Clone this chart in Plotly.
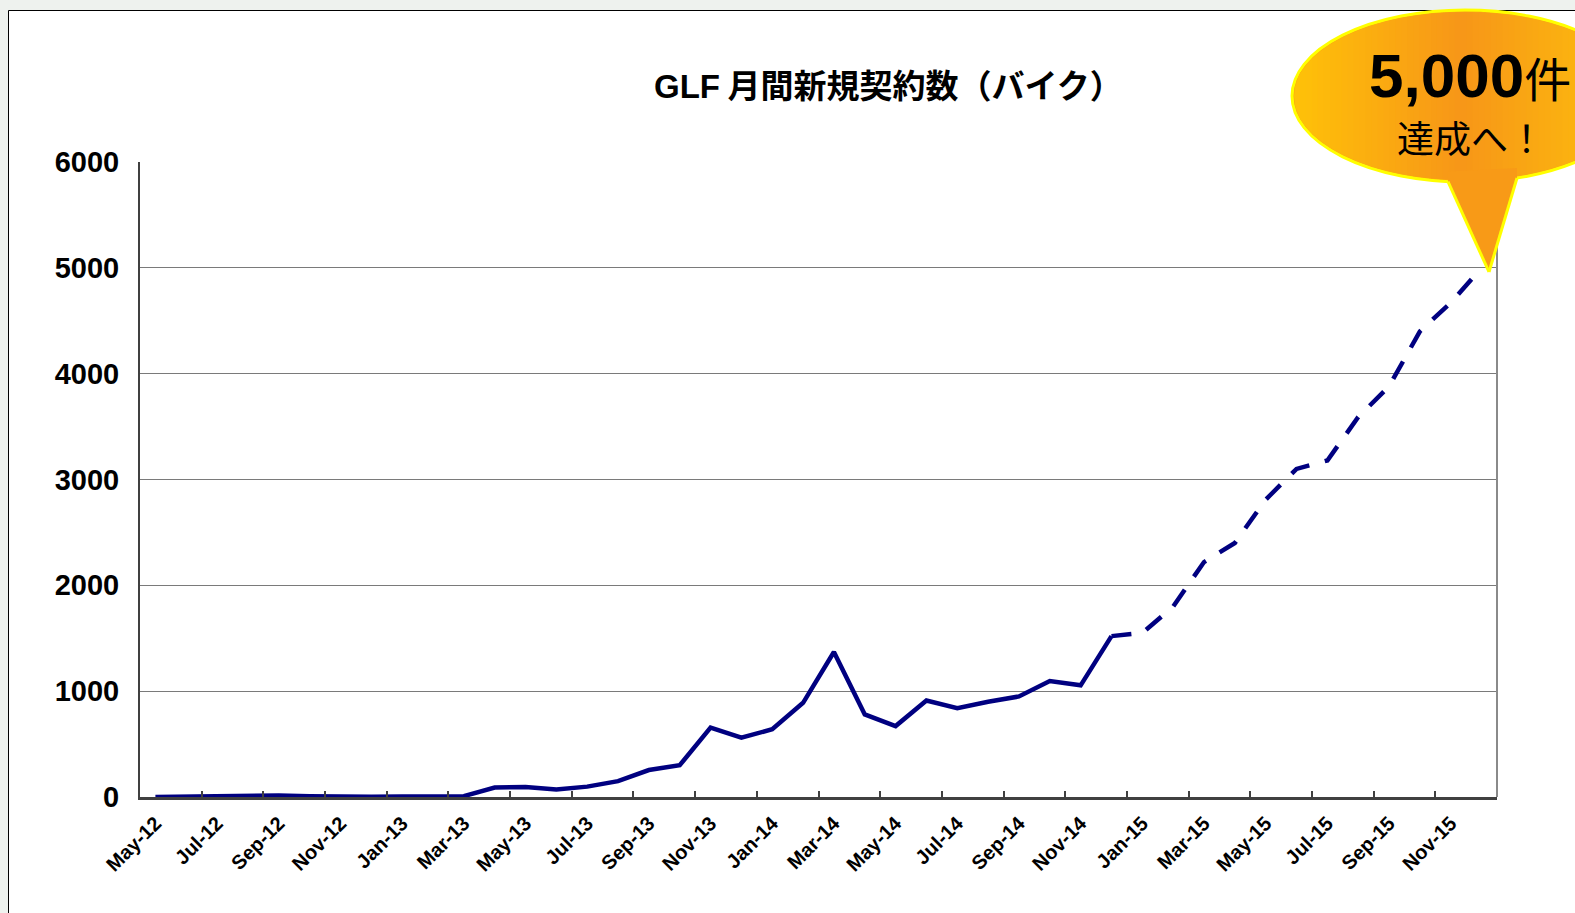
import plotly.graph_objects as go

# ---------------- data ----------------
months = [
    "May-12", "Jun-12", "Jul-12", "Aug-12", "Sep-12", "Oct-12", "Nov-12", "Dec-12",
    "Jan-13", "Feb-13", "Mar-13", "Apr-13", "May-13", "Jun-13", "Jul-13", "Aug-13",
    "Sep-13", "Oct-13", "Nov-13", "Dec-13", "Jan-14", "Feb-14", "Mar-14", "Apr-14",
    "May-14", "Jun-14", "Jul-14", "Aug-14", "Sep-14", "Oct-14", "Nov-14", "Dec-14",
    "Jan-15", "Feb-15", "Mar-15", "Apr-15", "May-15", "Jun-15", "Jul-15", "Aug-15",
    "Sep-15", "Oct-15", "Nov-15", "Dec-15",
]
# actual contracts May-12 .. Dec-14 (solid line)
actual = [0, 5, 5, 5, 15, 8, 3, 3, 5, 8, 8, 90, 95, 72, 98, 150,
          255, 300, 655, 560, 640, 890, 1370, 780, 670, 912, 840, 900, 950, 1095, 1055, 1520]
# plan Dec-14 .. Dec-15 (dashed line)
forecast = [1520, 1550, 1800, 2220, 2400, 2810, 3100, 3180, 3590, 3880, 4400, 4670, 5000]
y_ticks = [0, 1000, 2000, 3000, 4000, 5000, 6000]

title_latin = "GLF"
title_jp = "月間新規契約数（バイク）"
callout_big = "5,000"
callout_unit = "件"
callout_line2 = "達成へ！"

# ---------------- layout geometry ----------------
W, H = 1575, 913
L, R, T, B = 140, 78, 162, 116
PW, PH = W - L - R, H - T - B


def px(x):
    return (x - L) / PW


def py(y):
    return (H - B - y) / PH


NAVY = "#000080"
FONT = "Liberation Sans, Arial, Noto Sans CJK JP, sans-serif"
JFONT = "Noto Sans CJK JP, sans-serif"

fig = go.Figure()
n_act = len(actual)
fig.add_trace(go.Scatter(
    x=months[:n_act], y=actual, mode="lines",
    line=dict(color=NAVY, width=4.5), hoverinfo="skip", showlegend=False,
))
fig.add_trace(go.Scatter(
    x=months[n_act - 1:n_act - 1 + len(forecast)], y=forecast, mode="lines",
    line=dict(color=NAVY, width=4.5, dash="20px,16px"), hoverinfo="skip", showlegend=False,
))

shapes = []
# outer frame
shapes.append(dict(type="rect", xref="paper", yref="paper", layer="below",
                   x0=px(8.5), x1=px(1600), y0=py(10.5), y1=py(940),
                   line=dict(color="black", width=1), fillcolor="white"))
# right border of plot area
shapes.append(dict(type="line", xref="paper", yref="paper", layer="above",
                   x0=1, x1=1, y0=0, y1=1, line=dict(color="#8a8a8a", width=2)))

# ---- callout (ellipse + tail) ----
cx, cy, a, b = 1465.0, 96.0, 173.0, 86.0
c_left = (255, 194, 8)
c_mid = (247, 150, 24)
c_right = (251, 178, 16)


def grad(x):
    if x <= 1462:
        t = max(0.0, min(1.0, (x - (cx - a)) / (1462 - (cx - a))))
        c0, c1 = c_left, c_mid
    else:
        t = max(0.0, min(1.0, (x - 1462) / (1575 - 1462)))
        c0, c1 = c_mid, c_right
    return "rgb(%d,%d,%d)" % tuple(round(c0[i] + (c1[i] - c0[i]) * t) for i in range(3))


shapes.append(dict(type="circle", xref="paper", yref="paper", layer="above",
                   x0=px(cx - a), x1=px(cx + a), y0=py(cy + b), y1=py(cy - b),
                   line=dict(color="#FFFF00", width=3), fillcolor=grad(1400)))
# gradient strips inside the ellipse
ai, bi = a - 2.0, b - 2.0
nstr = 48
x_start, x_end = cx - ai, min(cx + ai, 1580)
for k in range(nstr):
    xa = x_start + (x_end - x_start) * k / nstr
    xb = x_start + (x_end - x_start) * (k + 1) / nstr + 0.8
    xb = min(xb, cx + ai)
    pts_top, pts_bot = [], []
    steps = 6
    for s in range(steps + 1):
        xx = xa + (xb - xa) * s / steps
        u = max(0.0, 1 - ((xx - cx) / ai) ** 2)
        h = bi * u ** 0.5
        pts_top.append((xx, cy - h))
        pts_bot.append((xx, cy + h))
    poly = pts_top + pts_bot[::-1]
    path = "M " + " L ".join("%.5f,%.5f" % (px(p[0]), py(p[1])) for p in poly) + " Z"
    shapes.append(dict(type="path", xref="paper", yref="paper", layer="above",
                       path=path, fillcolor=grad((xa + xb) / 2), line=dict(width=0)))

# tail
tl, tr, tip = 1448.0, 1517.0, (1489.0, 272.0)


def ell_bottom(x):
    return cy + b * max(0.0, 1 - ((x - cx) / a) ** 2) ** 0.5


tail_pts = [(tl, ell_bottom(tl) - 10), (tl, ell_bottom(tl)), tip, (tr, ell_bottom(tr)), (tr, ell_bottom(tr) - 10)]
tail_path = "M " + " L ".join("%.5f,%.5f" % (px(p[0]), py(p[1])) for p in tail_pts) + " Z"
shapes.append(dict(type="path", xref="paper", yref="paper", layer="above",
                   path=tail_path, fillcolor=grad(1478), line=dict(width=0)))
for (x0, y0) in [(tl, ell_bottom(tl)), (tr, ell_bottom(tr))]:
    shapes.append(dict(type="line", xref="paper", yref="paper", layer="above",
                       x0=px(x0), y0=py(y0), x1=px(tip[0]), y1=py(tip[1]),
                       line=dict(color="#FFFF00", width=3)))

annotations = [
    dict(xref="paper", yref="paper", x=px(888), y=py(84), xanchor="center", yanchor="middle",
         text="<b><span style='font-family:Liberation Sans'>" + title_latin + "</span> "
              + title_jp + "</b>", showarrow=False,
         font=dict(family=JFONT, size=33, color="black")),
    dict(xref="paper", yref="paper", x=px(1367), y=py(76), xanchor="left", yanchor="middle",
         text="<b>" + callout_big + "</b><span style='font-size:47px'>" + callout_unit + "</span>",
         showarrow=False, font=dict(family=FONT, size=62, color="black")),
    dict(xref="paper", yref="paper", x=px(1471), y=py(137), xanchor="center", yanchor="middle",
         text=callout_line2, showarrow=False,
         font=dict(family=JFONT, size=37, color="black")),
]

fig.update_layout(
    width=W, height=H,
    margin=dict(l=L, r=R, t=T, b=B, pad=0),
    paper_bgcolor="#eef2ee",
    plot_bgcolor="rgba(0,0,0,0)",
    shapes=shapes,
    annotations=annotations,
    showlegend=False,
    xaxis=dict(
        type="category", categoryorder="array", categoryarray=months,
        range=[-0.5, len(months) - 0.5],
        tickmode="linear", tick0=0, dtick=2, tickson="boundaries",
        ticks="inside", ticklen=6, tickwidth=1.5, tickcolor="#404040",
        tickangle=-45, ticklabelstandoff=4,
        tickfont=dict(family=FONT, size=20, color="black", weight="bold"),
        showgrid=False, showline=True, linecolor="#404040", linewidth=2.5,
        zeroline=False, fixedrange=True,
    ),
    yaxis=dict(
        range=[0, 6000], tickmode="array", tickvals=y_ticks,
        ticktext=[str(v) for v in y_ticks],
        ticks="", ticklabelstandoff=13,
        tickfont=dict(family=FONT, size=29, color="black", weight="bold"),
        showgrid=True, gridcolor="#7a7a7a", gridwidth=1.3,
        showline=True, linecolor="#404040", linewidth=2,
        zeroline=False, fixedrange=True,
    ),
)

fig.write_html("out.html", post_script="document.body.style.margin='0';",
               config={"displayModeBar": False})
